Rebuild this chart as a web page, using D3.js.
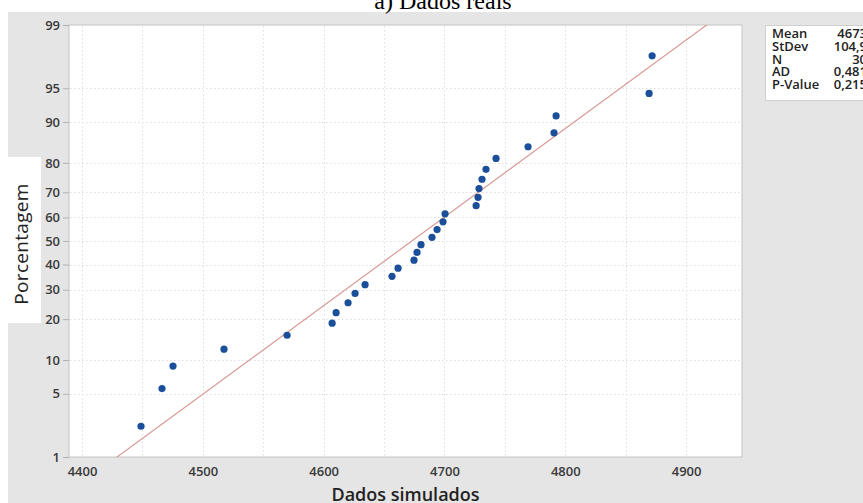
<!DOCTYPE html>
<html>
<head>
<meta charset="utf-8">
<script src="https://cdn.jsdelivr.net/npm/d3@7/dist/d3.min.js"></script>
<style>
  html, body { margin: 0; padding: 0; background: #ffffff; }
  svg { display: block; }
</style>
</head>
<body>
<svg id="chart" width="863" height="503"></svg>
<script>
// Simulated data (sorted) and their plotting percentages
const simulated = [
  4448.8, 4466.2, 4475.3, 4517.5, 4569.7, 4607.0, 4610.3, 4620.2, 4626.0, 4634.3,
  4656.6, 4661.6, 4674.8, 4677.3, 4680.6, 4689.7, 4693.9, 4698.8, 4700.5, 4726.2,
  4727.8, 4728.6, 4731.1, 4734.4, 4742.7, 4769.2, 4790.7, 4792.4, 4869.4, 4871.9
];
const percents = [
  2.3, 5.6, 8.9, 12.2, 15.5, 18.8, 22.0, 25.3, 28.6, 31.9,
  35.2, 38.5, 41.8, 45.1, 48.4, 51.6, 54.9, 58.2, 61.5, 64.8,
  68.1, 71.4, 74.7, 78.0, 81.3, 84.5, 87.8, 91.1, 94.4, 97.7
];

// Tick labels
const yTicks = [1, 5, 10, 20, 30, 40, 50, 60, 70, 80, 90, 95, 99];
const xTicks = [4400, 4500, 4600, 4700, 4800, 4900];
const xGrid = [4450, 4550, 4650, 4750, 4850];

// Summary statistics
const statNames = ["Mean", "StDev", "N", "AD", "P-Value"];
const statValues = ["4673", "104,9", "30", "0,481", "0,215"];
const fitMean = 4673;
const fitStDev = 104.9;

const svg = d3.select("#chart");
const W = 863, H = 503;
const plot = { left: 69, right: 742, top: 25, bottom: 457 };

// Inverse of the standard normal CDF (Acklam's rational approximation)
function probit(p) {
  const a = [-3.969683028665376e+01, 2.209460984245205e+02, -2.759285104469687e+02,
             1.383577518672690e+02, -3.066479806614716e+01, 2.506628277459239e+00];
  const b = [-5.447609879822406e+01, 1.615858368580409e+02, -1.556989798598866e+02,
             6.680131188771972e+01, -1.328068155288572e+01];
  const c = [-7.784894002430293e-03, -3.223964580411365e-01, -2.400758277161838e+00,
             -2.549732539343734e+00, 4.374664141464968e+00, 2.938163982698783e+00];
  const d = [7.784695709041462e-03, 3.224671290700398e-01, 2.445134137142996e+00,
             3.754408661907416e+00];
  const pl = 0.02425, ph = 1 - pl;
  let q, r;
  if (p < pl) {
    q = Math.sqrt(-2 * Math.log(p));
    return (((((c[0]*q+c[1])*q+c[2])*q+c[3])*q+c[4])*q+c[5]) /
           ((((d[0]*q+d[1])*q+d[2])*q+d[3])*q+1);
  }
  if (p <= ph) {
    q = p - 0.5; r = q * q;
    return (((((a[0]*r+a[1])*r+a[2])*r+a[3])*r+a[4])*r+a[5])*q /
           (((((b[0]*r+b[1])*r+b[2])*r+b[3])*r+b[4])*r+1);
  }
  q = Math.sqrt(-2 * Math.log(1 - p));
  return -(((((c[0]*q+c[1])*q+c[2])*q+c[3])*q+c[4])*q+c[5]) /
          ((((d[0]*q+d[1])*q+d[2])*q+d[3])*q+1);
}

// Scales: x linear; y is a normal-probability scale built on z-scores
const x = d3.scaleLinear().domain([4389.2, 4946.3]).range([plot.left, plot.right]);
const zLin = d3.scaleLinear().domain([probit(0.01), probit(0.99)]).range([plot.bottom, plot.top]);
function y(pct) { return zLin(probit(pct / 100)); }
y.domain = () => [1, 99];
y.range = () => zLin.range();
y.copy = () => y;

const font = "'Open Sans', 'Noto Sans', sans-serif";

// Backgrounds
svg.append("rect").attr("width", W).attr("height", H).attr("fill", "#ffffff");
svg.append("rect").attr("x", 8).attr("y", 12).attr("width", W - 8).attr("height", H - 12).attr("fill", "#e5e5e5");
svg.append("rect").attr("x", 0).attr("y", 157).attr("width", 41).attr("height", 166).attr("fill", "#ffffff");
svg.append("rect")
  .attr("x", plot.left).attr("y", plot.top)
  .attr("width", plot.right - plot.left).attr("height", plot.bottom - plot.top)
  .attr("fill", "#ffffff").attr("stroke", "#c4c4c4").attr("stroke-width", 1);

// Gridlines
const grid = svg.append("g").attr("stroke", "#dedede").attr("stroke-width", 1).attr("stroke-dasharray", "1.5,2.5");
grid.selectAll("line.h").data(yTicks.filter(t => t !== 1 && t !== 99)).join("line")
  .attr("x1", plot.left + 1).attr("x2", plot.right - 1)
  .attr("y1", d => Math.round(y(d)) + 0.5).attr("y2", d => Math.round(y(d)) + 0.5);
grid.selectAll("line.v").data(xTicks.concat(xGrid)).join("line")
  .attr("x1", d => Math.round(x(d)) + 0.5).attr("x2", d => Math.round(x(d)) + 0.5)
  .attr("y1", plot.top + 1).attr("y2", plot.bottom - 1);

// Axes
const yAxis = svg.append("g").attr("transform", `translate(${plot.left},0)`)
  .call(d3.axisLeft(y).tickValues(yTicks).tickSize(6).tickPadding(3).tickFormat(d3.format("d")));
const xAxis = svg.append("g").attr("transform", `translate(0,${plot.bottom})`)
  .call(d3.axisBottom(x).tickValues(xTicks).tickSize(4).tickPadding(6).tickFormat(d3.format("d")));
[yAxis, xAxis].forEach(g => {
  g.select(".domain").remove();
  g.selectAll(".tick line").attr("stroke", "#b0b0b0");
  g.selectAll(".tick text")
    .attr("fill", "#3a3a3a").style("font-family", font)
    .style("font-size", "13px").style("font-weight", "600");
});
xAxis.selectAll(".tick line").remove();

// Fitted normal line, clipped to the plot area
svg.append("clipPath").attr("id", "plot-clip").append("rect")
  .attr("x", plot.left).attr("y", plot.top)
  .attr("width", plot.right - plot.left).attr("height", plot.bottom - plot.top);
const zExt = [-3, 3];
svg.append("line")
  .attr("clip-path", "url(#plot-clip)")
  .attr("x1", x(fitMean + fitStDev * zExt[0])).attr("y1", zLin(zExt[0]))
  .attr("x2", x(fitMean + fitStDev * zExt[1])).attr("y2", zLin(zExt[1]))
  .attr("stroke", "#d99a94").attr("stroke-width", 1.2);

// Data points
svg.append("g").selectAll("circle").data(simulated).join("circle")
  .attr("cx", d => x(d)).attr("cy", (d, i) => y(percents[i]))
  .attr("r", 3.6).attr("fill", "#1c4f9a");

// Title
svg.append("text").attr("x", 443).attr("y", 9).attr("text-anchor", "middle")
  .style("font-family", "'Liberation Serif', 'Times New Roman', serif")
  .style("font-size", "24px").attr("fill", "#000").text("a) Dados reais");

// Axis titles
svg.append("text").attr("x", (plot.left + plot.right) / 2).attr("y", 501).attr("text-anchor", "middle")
  .style("font-family", font).style("font-size", "18px").style("font-weight", "600")
  .attr("fill", "#222").text("Dados simulados");
svg.append("text").attr("transform", "translate(28,244) rotate(-90)")
  .attr("text-anchor", "middle")
  .style("font-family", font).style("font-size", "19px").style("letter-spacing", "0.3px")
  .attr("fill", "#222").text("Porcentagem");

// Statistics box
const box = svg.append("g");
box.append("rect").attr("x", 765.5).attr("y", 25.5).attr("width", 110).attr("height", 75)
  .attr("fill", "#ffffff").attr("stroke", "#cfcfcf");
const rowY = d3.scaleLinear().domain([0, 4]).range([38, 89]);
box.selectAll("text.name").data(statNames).join("text")
  .attr("x", 772).attr("y", (d, i) => rowY(i))
  .style("font-family", font).style("font-size", "13px").style("font-weight", "600")
  .attr("fill", "#222").text(d => d);
box.selectAll("text.val").data(statValues).join("text")
  .attr("x", 867).attr("y", (d, i) => rowY(i)).attr("text-anchor", "end")
  .style("font-family", font).style("font-size", "13px").style("font-weight", "600")
  .attr("fill", "#222").text(d => d);
</script>
</body>
</html>
